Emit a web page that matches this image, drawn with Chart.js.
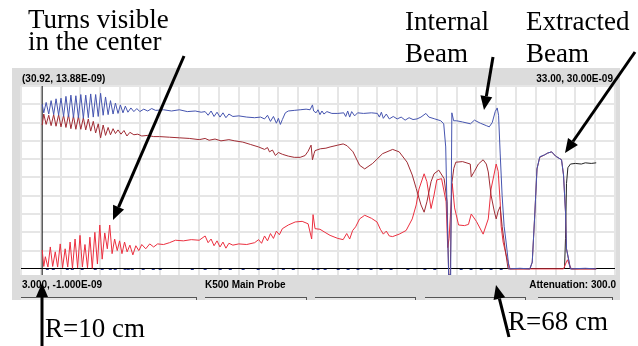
<!DOCTYPE html>
<html>
<head>
<meta charset="utf-8">
<script src="https://cdn.jsdelivr.net/npm/chart.js@4.4.0/dist/chart.umd.min.js"></script>
<style>
  html, body { margin: 0; padding: 0; background: #fff; }
  #wrap { position: relative; width: 638px; height: 346px; }
  #wrap canvas, #wrap svg { position: absolute; left: 0; top: 0; }
  .note { font-family: "Liberation Serif", "Times New Roman", serif; font-size: 27px; fill: #000; }
  .lbl { font-family: "Liberation Sans", Arial, sans-serif; font-size: 10px; font-weight: bold; fill: #000; }
</style>
</head>
<body>
<div id="wrap">
  <canvas id="probe" width="638" height="346"></canvas>
  <svg id="notes" width="638" height="346" xmlns="http://www.w3.org/2000/svg">
    <text class="lbl" x="22" y="82">(30.92, 13.88E-09)</text>
    <text class="lbl" x="613" y="82" text-anchor="end">33.00, 30.00E-09</text>
    <text class="lbl" x="22" y="288">3.000, -1.000E-09</text>
    <text class="lbl" x="205" y="288">K500 Main Probe</text>
    <text class="lbl" x="616" y="288" text-anchor="end">Attenuation: 300.0</text>

    <text class="note" x="28" y="28">Turns visible</text>
    <text class="note" x="28" y="50">in the center</text>
    <text class="note" x="405" y="30">Internal</text>
    <text class="note" x="405" y="62">Beam</text>
    <text class="note" x="526" y="30">Extracted</text>
    <text class="note" x="526" y="62">Beam</text>
    <text class="note" x="45" y="337">R=10 cm</text>
    <text class="note" x="508" y="330">R=68 cm</text>
  </svg>
</div>
<script>
// radius in inches (3..33), signal in units of 1E-09
const xTicks = [3, 4, 5, 6, 7, 8, 9, 10, 11, 12, 13, 14, 15, 16, 17, 18, 19, 20, 21, 22, 23, 24, 25, 26, 27, 28, 29, 30, 31, 32, 33];
const yTicks = [0, 3, 6, 9, 12, 15, 18, 21, 24, 27, 30];

// cursor at R = 10 cm
const cursorX = [4.07, 4.07];
const cursorY = [-1, 30];

// blue trace (upper)
const blueX = [
  4.07, 4.15, 4.27, 4.4, 4.52, 4.65, 4.77, 4.9, 5.02, 5.15,
  5.27, 5.4, 5.52, 5.65, 5.77, 5.9, 6.02, 6.15, 6.27, 6.4,
  6.52, 6.65, 6.77, 6.9, 7.02, 7.15, 7.27, 7.4, 7.52, 7.65,
  7.77, 7.9, 8.02, 8.15, 8.27, 8.4, 8.55, 8.7, 8.85, 9.0,
  9.2, 9.4, 9.6, 9.8, 10.2, 10.6, 11.0, 11.4, 11.8, 12.1,
  12.3, 12.45, 12.6, 12.75, 12.9, 13.05, 13.2, 13.35, 13.5, 13.7,
  14.0, 14.4, 14.8, 15.1, 15.3, 15.45, 15.6, 15.75, 15.9, 16.0,
  16.1, 16.2, 16.35, 16.5, 16.8, 17.1, 17.4, 17.6, 17.72, 17.78,
  17.9, 18.0, 18.1, 18.2, 18.3, 18.45, 18.7, 19.0, 19.3, 19.4,
  19.5, 19.6, 19.7, 19.85, 20.0, 20.3, 20.7, 21.0, 21.1, 21.2,
  21.3, 21.45, 21.6, 21.8, 22.0, 22.2, 22.4, 22.6, 22.8, 23.0,
  23.2, 23.45, 23.6, 23.9, 24.2, 24.35, 24.45, 24.55, 24.6, 24.7,
  24.76, 24.85, 25.0, 25.3, 25.7, 25.9, 26.2, 26.5, 26.65, 26.8,
  26.95, 27.05, 27.12, 27.2, 27.3, 27.4, 27.5, 27.65, 28.2, 28.7,
  28.82, 28.95, 29.06, 29.2, 29.44, 29.6, 29.8, 30.0, 30.3, 30.4,
  30.5, 30.55, 30.75, 31.5, 32.05
];
const blueY = [
  27.0, 25.6, 27.3, 25.4, 27.6, 25.3, 27.9, 25.2, 28.0, 25.0,
  28.3, 24.9, 28.5, 24.8, 28.4, 24.8, 28.6, 24.7, 28.5, 24.8,
  28.7, 24.9, 28.6, 25.0, 28.8, 25.2, 28.2, 25.3, 27.6, 25.4,
  27.2, 25.5, 26.9, 25.6, 26.7, 25.7, 26.4, 25.8, 26.3, 25.8,
  26.2, 25.9, 26.3, 26.0, 26.1, 25.9, 26.1, 25.8, 25.9, 25.7,
  25.8, 25.2, 25.9, 25.0, 25.7, 24.9, 25.6, 24.8, 25.4, 25.0,
  25.1, 24.9, 24.8, 24.9, 24.6, 25.2, 24.2, 25.0, 23.9, 24.7,
  23.7, 24.5, 25.6, 25.9, 26.0, 26.1, 26.2, 26.1, 26.9, 25.9,
  25.6, 26.1, 25.3, 25.9, 25.4, 25.8, 25.5, 25.5, 25.6, 25.0,
  25.9, 24.9, 25.8, 25.1, 25.6, 25.5, 25.6, 25.5, 24.9, 25.7,
  24.7, 25.4, 24.6, 25.0, 24.6, 24.9, 24.4, 24.8, 24.5, 24.6,
  24.9, 25.5, 24.9, 24.6, 24.3, 23.8, 20.0, 5.0, -1.0, -1.0,
  25.6, 24.3, 24.3, 24.1, 23.8, 24.4, 23.9, 23.5, 23.3, 24.0,
  25.8, 26.4, 25.2, 19.0, 12.0, 7.0, 4.4, 0.0, 0.1, 0.0,
  1.1, 9.0, 16.4, 18.4, 18.7, 19.0, 19.2, 18.5, 17.9, 15.4,
  9.3, 3.3, 0.0, 0.1, 0.0
];

// dark red trace (upper, falling)
const maroonX = [
  4.07, 4.15, 4.27, 4.4, 4.52, 4.65, 4.77, 4.9, 5.02, 5.15,
  5.27, 5.4, 5.52, 5.65, 5.77, 5.9, 6.02, 6.15, 6.27, 6.4,
  6.52, 6.65, 6.77, 6.9, 7.02, 7.15, 7.27, 7.4, 7.52, 7.65,
  7.77, 7.9, 8.05, 8.2, 8.35, 8.5, 8.7, 8.9, 9.1, 9.4,
  9.7, 10.0, 10.5, 11.0, 11.5, 12.0, 12.3, 12.5, 12.8, 13.1,
  13.5, 13.8, 14.2, 14.6, 15.0, 15.3, 15.45, 15.55, 15.7, 15.85,
  16.0, 16.2, 16.5, 16.8, 17.1, 17.35, 17.5, 17.65, 17.72, 17.8,
  17.85, 18.12, 18.4, 18.61, 19.0, 19.27, 19.47, 19.77, 20.1, 20.36,
  20.76, 21.26, 21.77, 22.1, 22.5, 22.76, 22.96, 23.2, 23.36, 23.5,
  23.71, 23.86, 24.1, 24.37, 24.52, 24.6, 24.68, 24.75, 24.86, 24.96,
  25.3, 25.69, 25.74, 25.9, 26.1, 26.34, 26.5, 26.6, 26.74, 26.9,
  27.0, 27.1, 27.2, 27.3, 27.45, 27.6, 28.7, 28.82, 28.95, 29.06,
  29.2, 29.44, 29.6, 29.8, 30.0, 30.3, 30.4, 30.5, 30.55, 30.75,
  32.05
];
const maroonY = [
  23.6, 25.4, 23.7, 25.2, 23.5, 25.3, 23.4, 25.3, 23.3, 25.2,
  23.2, 25.3, 23.0, 25.1, 22.9, 25.0, 22.9, 24.8, 22.8, 24.6,
  22.6, 24.2, 22.3, 23.8, 21.5, 23.6, 21.9, 23.2, 22.0, 23.0,
  22.2, 22.8, 22.1, 22.7, 21.8, 22.4, 22.0, 22.1, 21.8, 21.9,
  21.7, 21.7, 21.6, 21.5, 21.4, 21.2, 21.4, 21.1, 21.3, 21.0,
  21.2, 21.0, 20.8, 20.4, 20.0, 19.6, 19.9, 19.2, 19.5, 18.6,
  19.1, 18.8, 18.5, 18.3, 18.3, 18.6, 19.3, 20.3, 17.9, 18.9,
  19.4, 19.7, 19.8, 20.0, 20.3, 20.5, 20.2, 19.2, 17.0, 16.4,
  17.3, 18.9, 19.6, 19.2, 17.5, 15.4, 13.2, 10.5, 9.3, 11.0,
  14.3, 15.6, 16.2, 14.8, 11.0, -1.0, -1.0, 13.8, 16.5, 17.5,
  17.6, 17.2, 15.1, 16.0, 17.2, 17.9, 17.2, 15.9, 12.1, 9.5,
  8.2, 9.5, 10.2, 7.0, 3.3, 0.0, 0.0, 1.1, 9.0, 16.4,
  18.3, 18.7, 19.0, 19.2, 18.5, 17.9, 15.4, 9.3, 3.3, 0.0,
  0.0
];

// bright red trace (lower, rising)
const redX = [
  4.07, 4.15, 4.23, 4.36, 4.48, 4.6, 4.73, 4.85, 4.98, 5.1,
  5.23, 5.36, 5.48, 5.6, 5.73, 5.86, 5.98, 6.1, 6.23, 6.36,
  6.48, 6.6, 6.73, 6.86, 6.98, 7.1, 7.23, 7.36, 7.48, 7.6,
  7.73, 7.86, 7.98, 8.1, 8.23, 8.36, 8.5, 8.65, 8.8, 8.95,
  9.1, 9.3, 9.5, 9.7, 9.9, 10.2, 10.5, 10.8, 11.2, 11.6,
  12.0, 12.3, 12.45, 12.6, 12.75, 12.9, 13.05, 13.2, 13.35, 13.5,
  13.7, 14.0, 14.4, 14.8, 15.0, 15.15, 15.3, 15.45, 15.6, 15.75,
  15.9, 16.05, 16.2, 16.5, 16.85, 17.2, 17.5, 17.68, 17.75, 17.85,
  18.1, 18.35, 18.61, 19.0, 19.27, 19.45, 19.6, 19.75, 19.9, 20.1,
  20.36, 20.7, 20.98, 21.15, 21.3, 21.45, 21.6, 21.77, 22.1, 22.45,
  22.76, 22.96, 23.1, 23.36, 23.5, 23.71, 23.86, 24.0, 24.24, 24.47,
  24.55, 24.62, 24.78, 24.9, 25.1, 25.4, 25.6, 25.74, 26.0, 26.34,
  26.6, 26.74, 27.0, 27.1, 27.2, 27.25, 27.35, 27.5, 27.7, 30.4,
  30.5, 30.6, 30.7, 30.8, 32.05
];
const redY = [
  3.1, 0.4, 2.0, 0.3, 3.6, 0.4, 2.8, 0.3, 4.1, 0.2,
  3.3, 0.3, 4.4, 0.1, 4.9, 0.2, 5.5, 0.3, 4.0, 0.2,
  5.2, 0.1, 6.0, 0.8, 7.2, 1.6, 5.9, 3.3, 7.2, 2.5,
  4.9, 3.0, 4.6, 2.5, 4.4, 2.8, 3.9, 2.3, 3.8, 3.0,
  4.0, 3.3, 4.1, 3.6, 4.1, 4.0, 4.3, 4.7, 4.6, 4.8,
  4.7, 5.4, 4.3, 4.9, 3.8, 4.6, 3.6, 4.4, 3.4, 4.2,
  3.9, 4.1, 4.0, 4.3, 4.8, 4.2, 5.4, 4.6, 5.8, 5.0,
  6.2, 5.6, 6.6, 7.2, 7.7, 7.8, 7.4, 4.9, 8.9, 6.6,
  6.5, 6.0, 5.5, 5.0, 4.8, 5.8, 4.9, 6.3, 6.9, 8.2,
  8.8, 8.3, 7.7, 6.5, 5.7, 6.2, 5.4, 5.3, 5.7, 6.3,
  8.2, 10.5, 13.1, 15.6, 14.3, 9.9, 12.1, 14.6, 14.8, 11.0,
  3.5, 5.0, 14.0, 10.0, 7.2, 7.1, 7.3, 9.0, 7.8, 5.7,
  8.2, 13.1, 17.2, 16.0, 11.0, 7.0, 4.4, 2.3, 0.0, 0.0,
  0.8, 1.5, 0.6, 0.0, 0.0
];

// black trace (last step of the extracted beam)
const blackX = [30.45, 30.5, 30.55, 30.62, 30.75, 31.0, 31.3, 31.5, 31.8, 32.05];
const blackY = [0.0, 5.0, 14.0, 16.6, 17.2, 17.3, 17.2, 17.4, 17.3, 17.4];

// small marks sitting on the zero line
const baseTickX = [
  4.33, 4.63, 5.34, 5.59, 6.09, 6.75, 7.1, 7.51, 7.76, 8.26,
  8.42, 8.62, 9.17, 9.68, 10.03, 11.65, 12.3, 13.06, 13.57, 14.22,
  14.98, 15.74, 16.25, 16.75, 17.76, 18.0, 18.36, 19.02, 19.52, 20.02,
  20.68, 21.18, 21.69, 22.54, 23.4, 23.9, 25.23, 25.73, 26.24, 26.74,
  27.25
];
const baseTickY = baseTickX.map(() => -0.1);

function pairs(xs, ys) {
  return xs.map((x, i) => ({ x: x, y: ys[i] }));
}

const buttons = [[21, 197], [205, 307], [315, 416], [425, 526], [538, 613]];

// grey scope window behind the plot
const panelPlugin = {
  id: 'panel',
  beforeDraw(chart) {
    const ctx = chart.ctx;
    const a = chart.chartArea;
    ctx.save();
    ctx.fillStyle = '#fff';
    ctx.fillRect(0, 0, chart.width, chart.height);
    ctx.fillStyle = '#dcdcdc';
    ctx.fillRect(12, 68, 608, 232);
    ctx.fillStyle = '#fff';
    ctx.fillRect(a.left, a.top, a.right - a.left, a.bottom - a.top);
    buttons.forEach(b => {
      ctx.fillStyle = '#e8e8e8';
      ctx.fillRect(b[0], 297, b[1] - b[0], 3);
      ctx.strokeStyle = '#555';
      ctx.lineWidth = 1;
      ctx.beginPath();
      ctx.moveTo(b[0], 297.5);
      ctx.lineTo(b[1], 297.5);
      ctx.moveTo(b[1] - 0.5, 297);
      ctx.lineTo(b[1] - 0.5, 300);
      ctx.stroke();
    });
    ctx.restore();
  }
};

const ctx = document.getElementById('probe').getContext('2d');
new Chart(ctx, {
  type: 'line',
  data: {
    datasets: [
      { label: 'blue', data: pairs(blueX, blueY), borderColor: '#4655b0', borderWidth: 1, pointRadius: 0, tension: 0 },
      { label: 'maroon', data: pairs(maroonX, maroonY), borderColor: '#a02c34', borderWidth: 1, pointRadius: 0, tension: 0 },
      { label: 'red', data: pairs(redX, redY), borderColor: '#ec3040', borderWidth: 1, pointRadius: 0, tension: 0 },
      { label: 'black', data: pairs(blackX, blackY), borderColor: '#222', borderWidth: 1, pointRadius: 0, tension: 0 },
      { label: 'base', data: pairs(baseTickX, baseTickY), showLine: false, pointStyle: 'line',
        pointRadius: 1.5, pointBorderWidth: 1, pointBorderColor: '#2b3a8c', pointBackgroundColor: '#2b3a8c' },
      { label: 'cursor', data: pairs(cursorX, cursorY), borderColor: '#111', borderWidth: 1, pointRadius: 0 }
    ]
  },
  options: {
    responsive: false,
    animation: false,
    devicePixelRatio: 1,
    layout: { padding: { left: 21, top: 86, right: 23, bottom: 71 } },
    plugins: { legend: { display: false }, tooltip: { enabled: false } },
    scales: {
      x: {
        type: 'linear', min: 3, max: 33,
        afterBuildTicks: s => { s.ticks = xTicks.map(v => ({ value: v })); },
        ticks: { display: false },
        border: { display: false },
        grid: { drawTicks: false, color: '#e6e6e6', lineWidth: 2 }
      },
      y: {
        type: 'linear', min: -1, max: 30,
        afterBuildTicks: s => { s.ticks = yTicks.map(v => ({ value: v })); },
        ticks: { display: false },
        border: { display: false },
        grid: {
          drawTicks: false,
          color: c => c.tick && c.tick.value === 0 ? '#000' : '#e6e6e6',
          lineWidth: c => c.tick && c.tick.value === 0 ? 1 : 2
        }
      }
    }
  },
  plugins: [panelPlugin]
});

// annotation arrows
const svg = document.getElementById('notes');
const NS = 'http://www.w3.org/2000/svg';
function arrow(x0, y0, x1, y1) {
  const dx = x1 - x0, dy = y1 - y0;
  const len = Math.hypot(dx, dy);
  const ux = dx / len, uy = dy / len;
  const hl = 14, hw = 6;
  const bx = x1 - ux * hl, by = y1 - uy * hl;
  const ln = document.createElementNS(NS, 'line');
  ln.setAttribute('x1', x0); ln.setAttribute('y1', y0);
  ln.setAttribute('x2', bx); ln.setAttribute('y2', by);
  ln.setAttribute('stroke', '#000'); ln.setAttribute('stroke-width', 3);
  svg.appendChild(ln);
  const head = document.createElementNS(NS, 'polygon');
  head.setAttribute('points', [x1, y1, bx - uy * hw, by + ux * hw, bx + uy * hw, by - ux * hw].join(' '));
  head.setAttribute('fill', '#000');
  svg.appendChild(head);
}
arrow(184, 56, 113, 220);
arrow(493, 57, 484, 110);
arrow(635, 52, 565, 153);
arrow(42, 346, 42, 283);
arrow(509, 337, 496, 285);
</script>
</body>
</html>
